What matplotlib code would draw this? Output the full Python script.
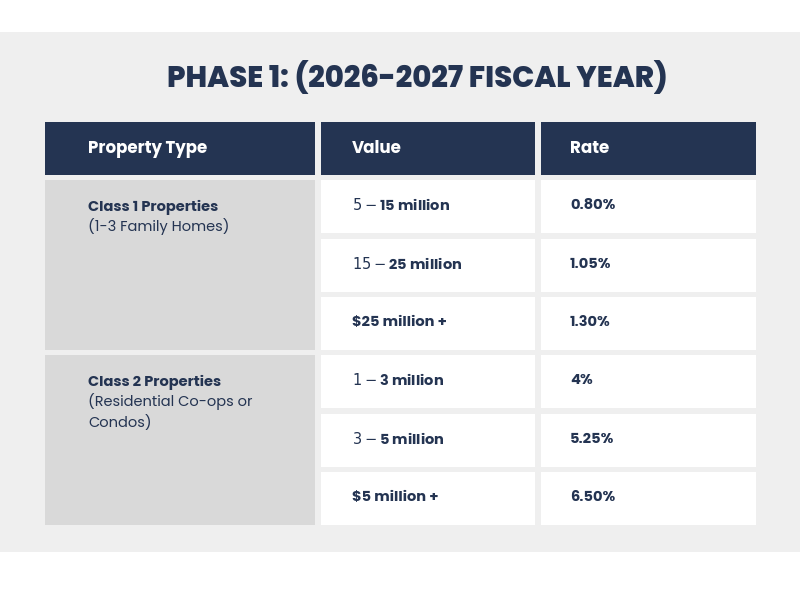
import matplotlib
matplotlib.use("Agg")
from matplotlib import pyplot as plt
from matplotlib.patches import Rectangle

title = "PHASE 1: (2026-2027 FISCAL YEAR)"
headers = ["Property Type", "Value", "Rate"]
classes = [("Class 1 Properties", "(1-3 Family Homes)"),
           ("Class 2 Properties", "(Residential Co-ops or\nCondos)")]
values = ["$5-$15 million", "$15-$25 million", "$25 million +",
          "$1-$3 million", "$3-$5 million", "$5 million +"]
rates = ["0.80%", "1.05%", "1.30%", "4%", "5.25%", "6.50%"]

navy = "#243452"
fam = ["Poppins", "Lato", "DejaVu Sans"]

fig = plt.figure(figsize=(8, 6), dpi=100)
ax = fig.add_axes([0, 0, 1, 1])
ax.set_xlim(0, 800)
ax.set_ylim(600, 0)
ax.axis("off")

def box(x0, y0, x1, y1, c):
    ax.add_patch(Rectangle((x0, y0), x1 - x0, y1 - y0, color=c, lw=0))

box(0, 32, 800, 552, "#efefef")
ax.text(417, 78, title, ha="center", va="center", fontsize=21,
        fontweight="heavy", color=navy, family=fam)

cols = [(45, 315), (321, 535), (541, 756)]
text_x = [88, 352, 570]
for (x0, x1), h, tx in zip(cols, headers, text_x):
    box(x0, 122, x1, 175, navy)
    ax.text(tx, 149, h, ha="left", va="center", fontsize=12,
            fontweight="bold", color="white", family=fam)

row_top = [180, 239, 297, 355, 414, 472]
row_h = 53
for i, (v, r) in enumerate(zip(values, rates)):
    y = row_top[i]
    for (x0, x1) in cols[1:]:
        box(x0, y, x1, y + row_h, "white")
    ax.text(text_x[1], y + 26, v, ha="left", va="center", fontsize=10.5,
            fontweight="bold", color=navy, family=fam)
    ax.text(text_x[2], y + 26, r, ha="left", va="center", fontsize=10.5,
            fontweight="bold", color=navy, family=fam)

for k, (name, sub) in enumerate(classes):
    y0 = row_top[3 * k]
    y1 = row_top[3 * k + 2] + row_h
    box(cols[0][0], y0, cols[0][1], y1, "#d9d9d9")
    ax.text(text_x[0], y0 + 27, name, ha="left", va="center", fontsize=10.5,
            fontweight="bold", color=navy, family=fam)
    ax.text(text_x[0], y0 + 38, sub, ha="left", va="top", fontsize=10.5,
            color=navy, family=fam, linespacing=1.45)

fig.savefig("out.png", dpi=100)
